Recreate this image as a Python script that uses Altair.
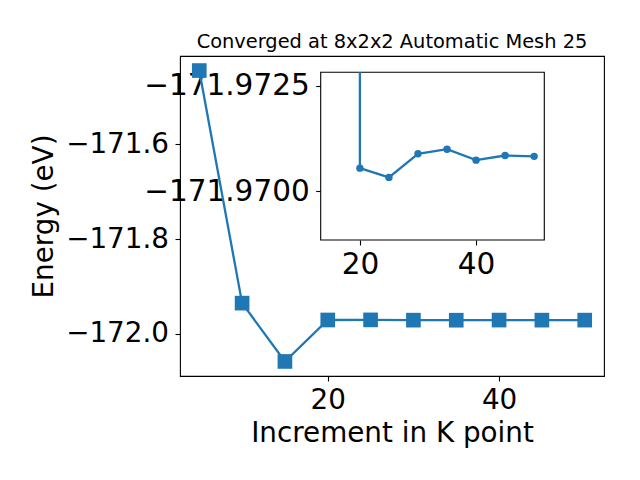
import altair as alt
import pandas as pd

# ---- data ----
kpoints = [5, 10, 15, 20, 25, 30, 35, 40, 45, 50]
energies = [-171.4445, -171.935, -172.058, -171.97055, -171.97033,
            -171.97089, -171.97100, -171.97074, -171.97085, -171.97083]

main_x_ticks = [20, 40]
main_y_ticks = [-172.0, -171.8, -171.6]
inset_x_ticks = [20, 40]
inset_y_ticks = [-171.9725, -171.9700]
inset_y_limits = [-171.972825, -171.968844]   # top (set_ylim inverted) , bottom

title_text = "Converged at 8x2x2 Automatic Mesh 25"
x_title = "Increment in K point"
y_title = "Energy (eV)"

BLUE = "#1f77b4"
FONT = "DejaVu Sans"

# ---- layout (plot area) ----
W, H = 424, 320
PAD = {"left": 172, "top": 48, "right": 28, "bottom": 96}

# matplotlib-like 5% margins
def margins(vals, m=0.05):
    lo, hi = min(vals), max(vals)
    r = hi - lo
    return [lo - m * r, hi + m * r]

main_xdom = margins(kpoints)
main_ydom = margins(energies)

inset_k = kpoints[2:]
inset_e = energies[2:]
inset_xdom = margins(inset_k)

# inset placement inside the plot area (pixels)
IX = [140.7, 364.3]
IY = [16.3, 184.0]

main_df = pd.DataFrame({"k": kpoints, "e": energies})
inset_df = pd.DataFrame({"k": inset_k[1:], "e": inset_e[1:]})
rise_df = pd.DataFrame({"k": [inset_k[1]], "e": [inset_e[1]], "top": [inset_y_limits[0]]})
frame_df = pd.DataFrame({"x0": [inset_xdom[0]], "x1": [inset_xdom[1]],
                         "y0": [inset_y_limits[0]], "y1": [inset_y_limits[1]]})

common_axis = dict(labelFont=FONT, titleFont=FONT, labelColor="black", titleColor="black",
                   tickColor="black", tickSize=5, tickWidth=1.1, domain=False, grid=False,
                   labelOverlap=False, titleFontWeight="normal")

mx = alt.Scale(domain=main_xdom, nice=False, zero=False)
my = alt.Scale(domain=main_ydom, nice=False, zero=False)
mx_axis = alt.Axis(values=main_x_ticks, format="d", orient="bottom", title=x_title,
                   labelFontSize=27.8, titleFontSize=27.8, labelPadding=5, titlePadding=5.5,
                   **common_axis)
my_axis = alt.Axis(values=main_y_ticks, format=".1f", orient="left", title=y_title,
                   labelFontSize=27.8, titleFontSize=27.8, labelPadding=6.5, titlePadding=7,
                   **common_axis)

main_base = alt.Chart(main_df)
main_line = main_base.mark_line(color=BLUE, strokeWidth=2.3).encode(
    x=alt.X("k:Q", scale=mx, axis=mx_axis),
    y=alt.Y("e:Q", scale=my, axis=my_axis),
)
main_pts = main_base.mark_square(color=BLUE, size=215, opacity=1).encode(
    x=alt.X("k:Q", scale=mx, axis=mx_axis),
    y=alt.Y("e:Q", scale=my, axis=my_axis),
)
main = alt.layer(main_line, main_pts)

ix = alt.Scale(domain=inset_xdom, range=IX, nice=False, zero=False)
iy = alt.Scale(domain=inset_y_limits, range=IY, nice=False, zero=False)
ix_axis = alt.Axis(values=inset_x_ticks, format="d", orient="bottom", title=None,
                   labelFontSize=29.5, labelPadding=5.5, offset=-(H - IY[1]), **common_axis)
iy_axis = alt.Axis(values=inset_y_ticks, format=".4f", orient="left", title=None,
                   labelFontSize=29.5, labelPadding=6.5, offset=-IX[0], **common_axis)

frame = alt.Chart(frame_df).mark_rect(fill="white", stroke="black", strokeWidth=1.1).encode(
    x=alt.X("x0:Q", scale=ix, axis=ix_axis), x2="x1:Q",
    y=alt.Y("y0:Q", scale=iy, axis=iy_axis), y2="y1:Q",
)
inset_line = alt.Chart(inset_df).mark_line(color=BLUE, strokeWidth=2.3).encode(
    x=alt.X("k:Q", scale=ix, axis=ix_axis),
    y=alt.Y("e:Q", scale=iy, axis=iy_axis),
)
inset_rise = alt.Chart(rise_df).mark_rule(color=BLUE, strokeWidth=2.3).encode(
    x=alt.X("k:Q", scale=ix, axis=ix_axis),
    y=alt.Y("e:Q", scale=iy, axis=iy_axis), y2="top:Q",
)
inset_pts = alt.Chart(inset_df).mark_circle(color=BLUE, size=55, opacity=1).encode(
    x=alt.X("k:Q", scale=ix, axis=ix_axis),
    y=alt.Y("e:Q", scale=iy, axis=iy_axis),
)
inset = alt.layer(frame, inset_rise, inset_line, inset_pts)

chart = alt.layer(main, inset).resolve_scale(
    x="independent", y="independent"
).resolve_axis(x="independent", y="independent").properties(
    width=W, height=H,
    autosize=alt.AutoSizeParams(type="none"),
    padding=PAD,
    title=alt.Title(title_text, font=FONT, fontSize=19.4, fontWeight="normal", color="black",
                    anchor="middle", frame="group", baseline="alphabetic", offset=-11.3),
).configure(background="white").configure_view(stroke="black", strokeWidth=1.1)

chart.save("out.html", embed_options={"renderer": "svg", "actions": False})
